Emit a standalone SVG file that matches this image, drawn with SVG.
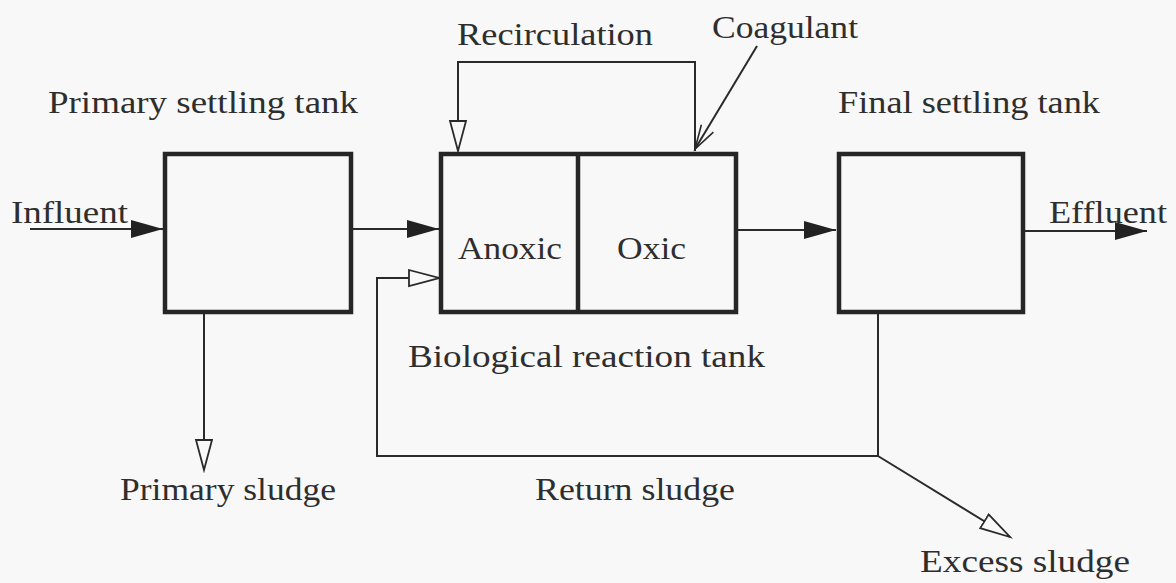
<svg xmlns="http://www.w3.org/2000/svg" width="1176" height="583" viewBox="0 0 1176 583">
<style>
.t{font-family:'Liberation Serif','DejaVu Serif',serif;font-size:32px;fill:#2e2e2e}
.box{fill:none;stroke:#262626;stroke-width:4.5}
.ln{fill:none;stroke:#2a2a2a;stroke-width:2}
</style>
<defs>
<marker id="af" markerUnits="userSpaceOnUse" markerWidth="34" markerHeight="20" refX="32" refY="9" orient="auto"><path d="M0,0 L32,9 L0,18 z" fill="#222"/></marker>
<marker id="ao" markerUnits="userSpaceOnUse" markerWidth="34" markerHeight="20" refX="31" refY="9" orient="auto"><path d="M1,1 L31,9 L1,17 z" fill="#f8f8f8" stroke="#2a2a2a" stroke-width="1.8"/></marker>
<marker id="av" markerUnits="userSpaceOnUse" markerWidth="28" markerHeight="18" refX="25" refY="8" orient="auto"><path d="M1,1 L25,8 L1,15" fill="none" stroke="#2a2a2a" stroke-width="1.6"/></marker>
</defs>
<rect width="1176" height="583" fill="#f8f8f8"/>
<g id="connectors">
<line class="ln" x1="30" y1="229" x2="163" y2="229" marker-end="url(#af)"/>
<line class="ln" x1="352" y1="229" x2="439" y2="229" marker-end="url(#af)"/>
<line class="ln" x1="737" y1="230" x2="836" y2="230" marker-end="url(#af)"/>
<line class="ln" x1="1025" y1="231" x2="1147" y2="231" marker-end="url(#af)"/>
<polyline class="ln" points="695,151 695,62 458,62 458,151" marker-end="url(#ao)"/>
<line class="ln" x1="757" y1="46" x2="695" y2="149" marker-end="url(#av)"/>
<line class="ln" x1="204" y1="314" x2="204" y2="470" marker-end="url(#ao)"/>
<polyline class="ln" points="878,314 878,456 377,456 377,278 439,278" marker-end="url(#ao)"/>
<line class="ln" x1="878" y1="456" x2="1010" y2="537" marker-end="url(#ao)"/>
</g>
<g id="primary-settling-tank">
<rect class="box" x="165" y="154" width="186" height="158"/>
<text class="t" x="48" y="113" textLength="310" lengthAdjust="spacingAndGlyphs">Primary settling tank</text>
</g>
<g id="biological-reaction-tank">
<rect class="box" x="441" y="154" width="295" height="158"/>
<line class="box" x1="578" y1="154" x2="578" y2="312"/>
<text class="t" x="458" y="259" textLength="104" lengthAdjust="spacingAndGlyphs">Anoxic</text>
<text class="t" x="617" y="259" textLength="69" lengthAdjust="spacingAndGlyphs">Oxic</text>
<text class="t" x="408" y="367" textLength="357" lengthAdjust="spacingAndGlyphs">Biological reaction tank</text>
</g>
<g id="final-settling-tank">
<rect class="box" x="839" y="154" width="184" height="158"/>
<text class="t" x="838" y="113" textLength="262" lengthAdjust="spacingAndGlyphs">Final settling tank</text>
</g>
<g id="labels">
<text class="t" x="11" y="223" textLength="117" lengthAdjust="spacingAndGlyphs">Influent</text>
<text class="t" x="1049" y="223" textLength="118" lengthAdjust="spacingAndGlyphs">Effluent</text>
<text class="t" x="457" y="45" textLength="196" lengthAdjust="spacingAndGlyphs">Recirculation</text>
<text class="t" x="712" y="38" textLength="146" lengthAdjust="spacingAndGlyphs">Coagulant</text>
<text class="t" x="120" y="500" textLength="216" lengthAdjust="spacingAndGlyphs">Primary sludge</text>
<text class="t" x="535" y="500" textLength="200" lengthAdjust="spacingAndGlyphs">Return sludge</text>
<text class="t" x="920" y="572" textLength="210" lengthAdjust="spacingAndGlyphs">Excess sludge</text>
</g>
</svg>
